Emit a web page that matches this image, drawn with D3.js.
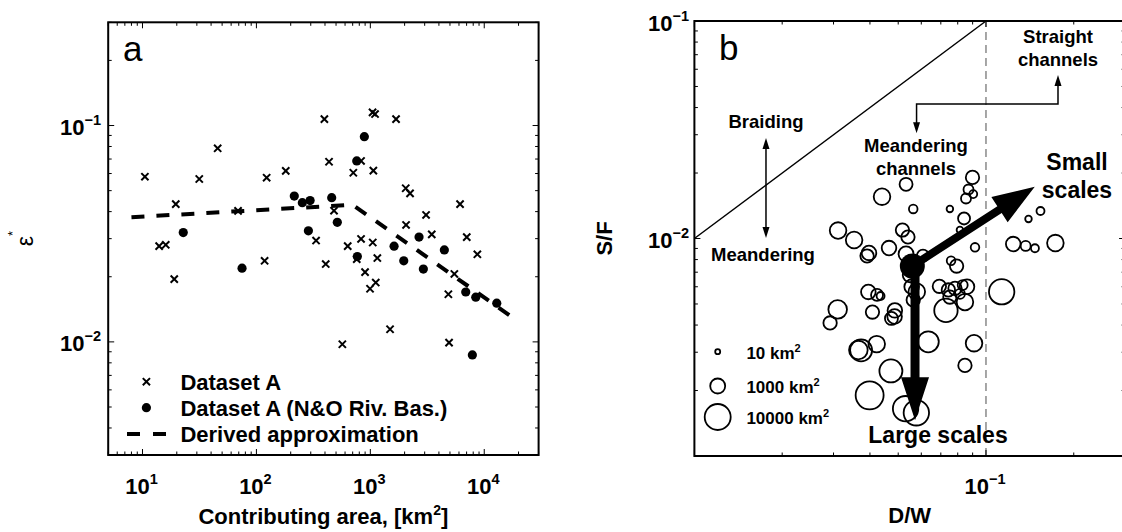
<!DOCTYPE html>
<html><head><meta charset="utf-8">
<script src="https://cdn.jsdelivr.net/npm/d3@7"></script>
<style>
body{margin:0;background:#fff}
svg{display:block}
text{font-family:'Liberation Sans',Arial,Helvetica,sans-serif;fill:#000}
</style></head>
<body><svg id="chart" width="1122" height="532"></svg>
<script>
// ---------- Panel a data ----------
const crossArea = [10.5,45.7,31.5,19.6,14.0,16.0,19.0,69,123,181,118,395,1046,1100,1682,434,709,1063,829,2046,2232,480,6134,3085,2059,3461,7022,334,829,633,1050,8700,1152,406,760,899,1116,994,5465,4842,1490,568,4910];
const crossEps  = [0.058,0.0785,0.0566,0.0433,0.0277,0.0281,0.0195,0.0403,0.0574,0.0617,0.0237,0.107,0.115,0.113,0.107,0.068,0.0605,0.0619,0.0686,0.0513,0.0486,0.0404,0.0433,0.0386,0.0347,0.0314,0.0305,0.0294,0.0299,0.0277,0.0288,0.0254,0.0244,0.0229,0.0241,0.021,0.0188,0.0176,0.0206,0.0166,0.01144,0.00975,0.00992];
const dotArea = [22.8,74.8,215,253,296,286,458,513,886,760,2677,1616,4465,769,1965,2921,6881,8424,12880,7865];
const dotEps  = [0.032,0.0219,0.0472,0.044,0.045,0.0326,0.0464,0.0357,0.0888,0.0686,0.0305,0.0277,0.0266,0.0248,0.0237,0.0217,0.017,0.0161,0.0151,0.0087];
const approxArea = [8,700,18000];
const approxEps  = [0.0377,0.043,0.0129];
const legendLabelsA = ["Dataset A","Dataset A (N&O Riv. Bas.)","Derived approximation"];
const xTickA = [10,100,1000,10000];
const xTickExpA = ["1","2","3","4"];
const yTickA = [0.01,0.1];
const yTickExpA = ["\u22122","\u22121"];

// ---------- Panel b data ----------
const circDW = [0.0899,0.0532,0.044,0.0563,0.0752,0.0871,0.0904,0.0854,0.0841,0.0814,0.0311,0.0353,0.0465,0.0517,0.054,0.0397,0.0391,0.0532,0.0608,0.0917,0.0759,0.0793,0.124,0.1368,0.1472,0.173,0.1399,0.1538,0.1132,0.0549,0.0556,0.0579,0.0563,0.0692,0.0743,0.0783,0.0832,0.0861,0.0814,0.0752,0.0847,0.0729,0.0395,0.0423,0.0435,0.0408,0.0487,0.0486,0.0474,0.031,0.0292,0.0634,0.091,0.0847,0.0373,0.0365,0.0422,0.0472,0.0399,0.053,0.0577];
const circSF = [0.0191,0.01775,0.01557,0.01367,0.01367,0.0168,0.016,0.01527,0.01236,0.01094,0.01088,0.00984,0.00904,0.01094,0.01016,0.00858,0.00831,0.00849,0.00835,0.00911,0.0079,0.00747,0.00943,0.00924,0.00902,0.00953,0.0123,0.01338,0.00569,0.0068,0.006,0.00569,0.00522,0.00603,0.0058,0.0059,0.00611,0.006,0.00556,0.00538,0.0051,0.00467,0.00568,0.0055,0.00544,0.00459,0.00467,0.00438,0.00429,0.00472,0.00409,0.00335,0.0033,0.00261,0.00306,0.00307,0.00327,0.00246,0.0019,0.00165,0.00158];
const circArea = [626,551,1534,98,32,184,72,184,394,32,1534,1534,897,626,626,897,626,1004,394,98,98,626,897,184,72,1534,32,72,9070,897,897,1534,626,626,626,626,184,897,184,626,1534,6440,897,394,72,626,897,897,551,2468,626,4097,1534,626,4976,2468,1534,5990,13620,9070,9070];
const meanPoint = [0.0559,0.00747];
const smallScaleTip = [0.147,0.0173];
const largeScaleTip = [0.0571,0.00146];
const regimeLineDW = [0.01,0.1];
const regimeLineSF = [0.01,0.1];
const straightLimitDW = 0.1;
const legendAreasB = [10,1000,10000];
const legendLabelsB = ["10 km","1000 km","10000 km"];
const xTickB = [0.1];
const xTickExpB = ["\u22121"];
const yTickB = [0.01,0.1];
const yTickExpB = ["\u22122","\u22121"];

// ---------- Setup ----------
const svg = d3.select("#chart");
const xA = d3.scaleLog().domain([5,30000]).range([108.2,538.6]);
const yA = d3.scaleLog().domain([0.003,0.3]).range([455,22.3]);
const xB = d3.scaleLog().domain([0.01,0.3]).range([694.4,1125.1]);
const yB = d3.scaleLog().domain([0.001,0.1]).range([456,21]);
const rB = d3.scalePow().exponent(0.24).domain([10,10000]).range([2.5,13]);

const isMajor = v => Math.abs(Math.log10(v)-Math.round(Math.log10(v)))<1e-9;

function frameAndTicks(g, x, y){
  const [x0,x1]=x.range(), [y0,y1]=y.range();
  const tg = g.append("g").attr("stroke","#000").attr("stroke-width",1);
  x.ticks().forEach(v=>{
    const L = isMajor(v)?6:3.5, px=x(v);
    tg.append("line").attr("x1",px).attr("x2",px).attr("y1",y0).attr("y2",y0-L);
    tg.append("line").attr("x1",px).attr("x2",px).attr("y1",y1).attr("y2",y1+L);
  });
  y.ticks().forEach(v=>{
    const L = isMajor(v)?6:3.5, py=y(v);
    tg.append("line").attr("y1",py).attr("y2",py).attr("x1",x0).attr("x2",x0+L);
    tg.append("line").attr("y1",py).attr("y2",py).attr("x1",x1).attr("x2",x1-L);
  });
  g.append("rect").attr("x",x0).attr("y",y1).attr("width",x1-x0).attr("height",y0-y1)
    .attr("fill","none").attr("stroke","#000").attr("stroke-width",2);
}

function powLabel(g, px, py, exp, anchor, size){
  const t = g.append("text").attr("x",px).attr("y",py).attr("text-anchor",anchor)
    .attr("font-size",size).attr("font-weight","bold");
  t.append("tspan").text("10");
  t.append("tspan").attr("dy",-size*0.45).attr("font-size",size*0.66).text(exp);
  return t;
}

// ================= Panel a =================
const gA = svg.append("g");
gA.append("path")
  .attr("d", d3.line().x((d,i)=>xA(approxArea[i])).y((d,i)=>yA(approxEps[i]))(approxArea))
  .attr("fill","none").attr("stroke","#000").attr("stroke-width",4).attr("stroke-dasharray","13,12");
const cs = 3.6;
gA.append("g").selectAll("path").data(crossArea).join("path")
  .attr("d",(d,i)=>{const px=xA(d),py=yA(crossEps[i]);return `M${px-cs},${py-cs}L${px+cs},${py+cs}M${px-cs},${py+cs}L${px+cs},${py-cs}`;})
  .attr("stroke","#000").attr("stroke-width",2).attr("fill","none");
gA.append("g").selectAll("circle").data(dotArea).join("circle")
  .attr("cx",d=>xA(d)).attr("cy",(d,i)=>yA(dotEps[i])).attr("r",4.6).attr("fill","#000");

frameAndTicks(gA,xA,yA);

xTickA.forEach((v,i)=>powLabel(gA,xA(v)-1,494,xTickExpA[i],"middle",22));
yTickA.forEach((v,i)=>powLabel(gA,101,yA(v)+9.5,yTickExpA[i],"end",22));

gA.append("text").attr("x",123).attr("y",61).attr("font-size",35).attr("fill","#222").text("a");

const tA = gA.append("text").attr("x",(xA.range()[0]+xA.range()[1])/2).attr("y",524)
  .attr("text-anchor","middle").attr("font-size",22).attr("font-weight","bold");
tA.append("tspan").text("Contributing area, [km");
tA.append("tspan").attr("dy",-9).attr("font-size",14).text("2");
tA.append("tspan").attr("dy",9).text("]");
const eA = gA.append("text").attr("transform",`translate(33,${(yA.range()[0]+yA.range()[1])/2}) rotate(-90)`)
  .attr("text-anchor","middle").attr("font-size",23);
eA.append("tspan").text("\u03b5");
eA.append("tspan").attr("dy",-16).attr("font-size",13).text("*");

// legend a
const lgA = gA.append("g");
const lgRowsY = [381.7,407.7,434];
lgA.append("path").attr("d",`M${146.4-cs},${lgRowsY[0]-cs}L${146.4+cs},${lgRowsY[0]+cs}M${146.4-cs},${lgRowsY[0]+cs}L${146.4+cs},${lgRowsY[0]-cs}`)
  .attr("stroke","#000").attr("stroke-width",2);
lgA.append("circle").attr("cx",146.4).attr("cy",lgRowsY[1]).attr("r",4.6).attr("fill","#000");
lgA.append("line").attr("x1",127).attr("x2",166).attr("y1",lgRowsY[2]).attr("y2",lgRowsY[2])
  .attr("stroke","#000").attr("stroke-width",4).attr("stroke-dasharray","13,13");
legendLabelsA.forEach((s,i)=>lgA.append("text").attr("x",180.4).attr("y",lgRowsY[i]+8)
  .attr("font-size",22).attr("font-weight","bold").text(s));

// ================= Panel b =================
const gB = svg.append("g");
gB.append("line").attr("x1",xB(regimeLineDW[0])).attr("y1",yB(regimeLineSF[0]))
  .attr("x2",xB(regimeLineDW[1])).attr("y2",yB(regimeLineSF[1]))
  .attr("stroke","#000").attr("stroke-width",1.5);
gB.append("line").attr("x1",xB(straightLimitDW)).attr("x2",xB(straightLimitDW))
  .attr("y1",yB.range()[0]).attr("y2",yB.range()[1])
  .attr("stroke","#777").attr("stroke-width",1.3).attr("stroke-dasharray","8,5");

gB.append("g").selectAll("circle").data(circDW).join("circle")
  .attr("cx",d=>xB(d)).attr("cy",(d,i)=>yB(circSF[i])).attr("r",(d,i)=>rB(circArea[i]))
  .attr("fill","none").attr("stroke","#000").attr("stroke-width",1.8);

gB.append("circle").attr("cx",xB(meanPoint[0])).attr("cy",yB(meanPoint[1])).attr("r",12.5).attr("fill","#000");

function blockArrow(g,x0,y0,x1,y1,sw,hl,hw){
  const dx=x1-x0, dy=y1-y0, L=Math.hypot(dx,dy), ux=dx/L, uy=dy/L, nx=-uy, ny=ux;
  const bx=x1-ux*hl, by=y1-uy*hl;
  const pts=[[x0+nx*sw/2,y0+ny*sw/2],[bx+nx*sw/2,by+ny*sw/2],[bx+nx*hw/2,by+ny*hw/2],[x1,y1],
    [bx-nx*hw/2,by-ny*hw/2],[bx-nx*sw/2,by-ny*sw/2],[x0-nx*sw/2,y0-ny*sw/2]];
  g.append("polygon").attr("points",pts.map(p=>p.join(",")).join(" ")).attr("fill","#000");
}
blockArrow(gB,xB(meanPoint[0]),yB(meanPoint[1]),xB(smallScaleTip[0]),yB(smallScaleTip[1]),8,42,30);
blockArrow(gB,xB(largeScaleTip[0]),yB(meanPoint[1]),xB(largeScaleTip[0]),yB(largeScaleTip[1]),9,43,28);

function thinHead(g,x,y,dir){
  g.append("polygon").attr("points",`${x},${y} ${x-3.5},${y-dir*11} ${x+3.5},${y-dir*11}`).attr("fill","#000");
}
const daX = xB(0.0176), daY0 = yB(0.029), daY1 = yB(0.01005);
gB.append("line").attr("x1",daX).attr("x2",daX).attr("y1",daY0+5).attr("y2",daY1-5).attr("stroke","#000").attr("stroke-width",1.5);
thinHead(gB,daX,daY0,-1); thinHead(gB,daX,daY1,1);
const brL = xB(0.0578), brR = xB(0.1766), brY = yB(0.0415), brUp = yB(0.0565), brDn = yB(0.0305);
gB.append("path").attr("d",`M${brL},${brDn-5}L${brL},${brY}L${brR},${brY}L${brR},${brUp+5}`)
  .attr("fill","none").attr("stroke","#000").attr("stroke-width",1.5);
thinHead(gB,brL,brDn,1); thinHead(gB,brR,brUp,-1);

frameAndTicks(gB,xB,yB);

xTickB.forEach((v,i)=>powLabel(gB,xB(v)-1,494,xTickExpB[i],"middle",22));
yTickB.forEach((v,i)=>powLabel(gB,689,yB(v)+9.5,yTickExpB[i],"end",22));

gB.append("text").attr("x",719).attr("y",60).attr("font-size",35).attr("fill","#222").text("b");

function txt(g,x,y,s,size,anchor){
  return g.append("text").attr("x",x).attr("y",y).attr("font-size",size).attr("font-weight","bold")
    .attr("text-anchor",anchor||"middle").text(s);
}
txt(gB,1058,43,"Straight",18.5);
txt(gB,1058,66,"channels",18.5);
txt(gB,766,128,"Braiding",18.5);
txt(gB,763,261,"Meandering",18.5);
txt(gB,916,152,"Meandering",18.5);
txt(gB,916,175,"channels",18.5);
txt(gB,1077,170,"Small",23);
txt(gB,1077,198,"scales",23);
txt(gB,938,443,"Large scales",23);

const lgBy = [351.7,386,417];
legendAreasB.forEach((a,i)=>{
  gB.append("circle").attr("cx",717.7).attr("cy",lgBy[i]).attr("r",rB(a)).attr("fill","none").attr("stroke","#000").attr("stroke-width",1.8);
  const t = gB.append("text").attr("x",746.4).attr("y",lgBy[i]+7).attr("font-size",17).attr("font-weight","bold");
  t.append("tspan").text(legendLabelsB[i]);
  t.append("tspan").attr("dy",-7).attr("font-size",11).text("2");
});

gB.append("text").attr("x",(xB.range()[0]+xB.range()[1])/2).attr("y",523).attr("text-anchor","middle")
  .attr("font-size",22).attr("font-weight","bold").text("D/W");
gB.append("text").attr("transform",`translate(612,${(yB.range()[0]+yB.range()[1])/2}) rotate(-90)`)
  .attr("text-anchor","middle").attr("font-size",22).attr("font-weight","bold").text("S/F");
</script></body></html>
